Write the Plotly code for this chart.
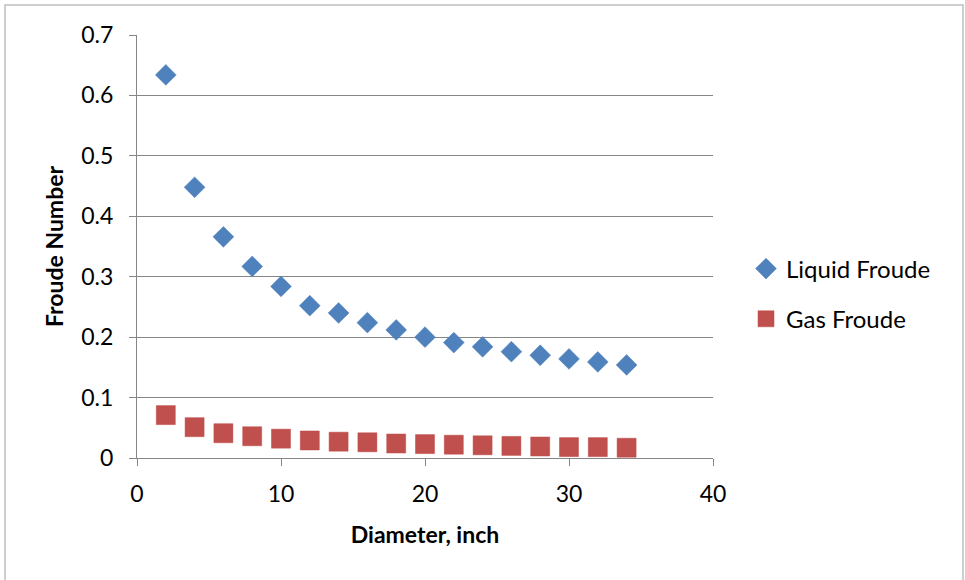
import plotly.graph_objects as go

diameter_in = [2, 4, 6, 8, 10, 12, 14, 16, 18, 20, 22, 24, 26, 28, 30, 32, 34]
liquid_froude = [0.634, 0.448, 0.366, 0.317, 0.284, 0.252, 0.240, 0.224, 0.212, 0.200,
                 0.191, 0.184, 0.176, 0.170, 0.164, 0.159, 0.154]
gas_froude = [0.071, 0.051, 0.041, 0.036, 0.032, 0.029, 0.027, 0.026, 0.024, 0.023,
              0.022, 0.021, 0.020, 0.019, 0.018, 0.018, 0.017]

x_ticks = [0, 10, 20, 30, 40]
y_ticks = [0, 0.1, 0.2, 0.3, 0.4, 0.5, 0.6, 0.7]

FONT = "Lato"
GRID = "#868686"

fig = go.Figure()
fig.add_trace(go.Scatter(
    x=diameter_in, y=liquid_froude, mode="markers", name="Liquid Froude",
    legendgroup="liquid",
    marker=dict(symbol="diamond", size=16, color="#4F81BD",
                line=dict(width=0.5, color="#4A7EBB")),
))
fig.add_trace(go.Scatter(
    x=diameter_in, y=gas_froude, mode="markers", name="Gas Froude",
    legendgroup="gas",
    marker=dict(symbol="square", size=19, color="#C0504D",
                line=dict(width=0.5, color="#BE4B48")),
))

# plot area: 137..713 px horizontally, 35..458 px vertically
L, R, T, B = 137, 713, 35, 458
W, H = 965, 580
pw, ph = R - L, B - T

fig.update_layout(
    width=W, height=H,
    margin=dict(l=L, r=W - R, t=T, b=H - B),
    paper_bgcolor="white", plot_bgcolor="white",
    font=dict(family=FONT, size=23, color="black"),
    showlegend=True,
    legend=dict(
        x=(746 - L) / pw, y=(B - 294) / ph, xanchor="left", yanchor="middle",
        font=dict(family=FONT, size=24, color="black"),
        bgcolor="rgba(0,0,0,0)", itemsizing="trace", tracegroupgap=16,
        itemwidth=30,
    ),
    xaxis=dict(
        range=[0, 40], tickvals=x_ticks, ticktext=[str(v) for v in x_ticks],
        showgrid=False, zeroline=False,
        showline=True, linecolor=GRID, linewidth=1.3,
        ticks="outside", ticklen=7, tickcolor=GRID, tickwidth=1.3,
        tickfont=dict(family=FONT, size=23), ticklabelstandoff=8,
        title=dict(text="<b>Diameter, inch</b>", font=dict(family=FONT, size=23),
                   standoff=21),
    ),
    yaxis=dict(
        range=[0, 0.7], tickvals=y_ticks, ticktext=["0", "0.1", "0.2", "0.3", "0.4", "0.5", "0.6", "0.7"],
        showgrid=True, gridcolor=GRID, gridwidth=1.3, zeroline=False,
        showline=True, linecolor=GRID, linewidth=1.3,
        ticks="outside", ticklen=7, tickcolor=GRID, tickwidth=1.3,
        tickfont=dict(family=FONT, size=23), ticklabelstandoff=11,
        title=dict(text="<b>Froude Number</b>", font=dict(family=FONT, size=23),
                   standoff=11),
    ),
    shapes=[dict(
        type="rect", xref="paper", yref="paper",
        x0=(5 - L) / pw, x1=(963 - L) / pw,
        y0=(B - 590) / ph, y1=(B - 5) / ph,
        line=dict(color="#BFBFBF", width=1.5), fillcolor="rgba(0,0,0,0)",
        layer="below",
    )],
)

fig.write_html("out.html")
